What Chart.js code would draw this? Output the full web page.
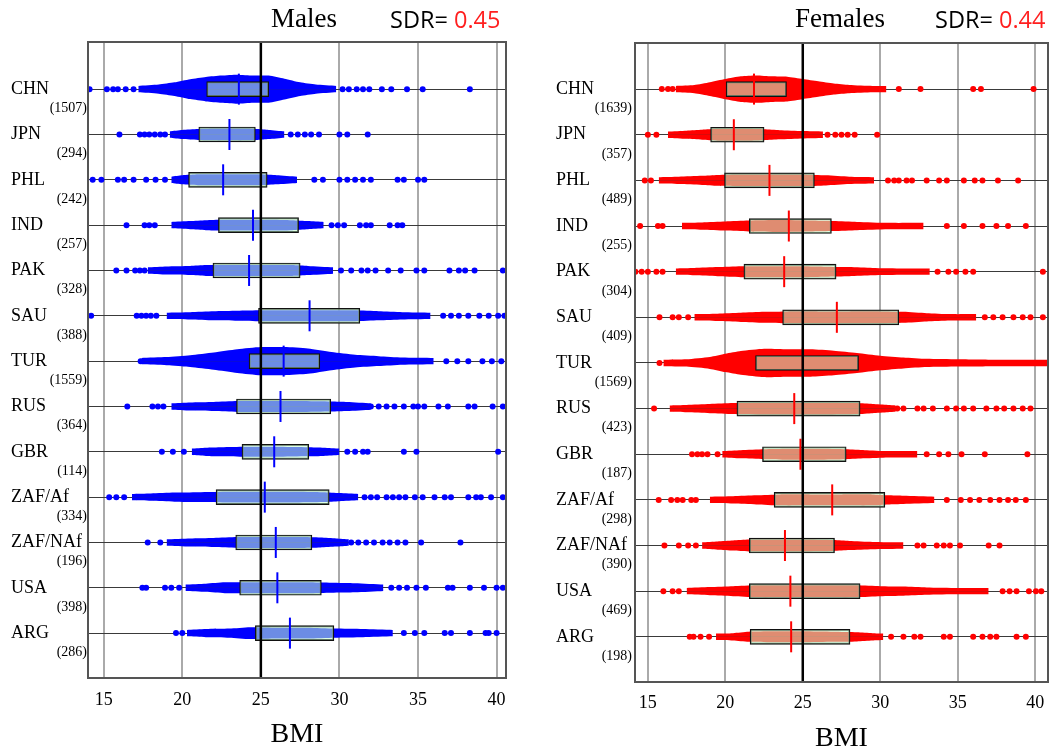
<!DOCTYPE html>
<html>
<head>
<meta charset="utf-8">
<script src="https://cdn.jsdelivr.net/npm/chart.js@4.4.1/dist/chart.umd.min.js"></script>
<style>
  body { margin: 0; background: #fff; width: 1057px; height: 750px; position: relative; overflow: hidden; }
  .panel { position: absolute; top: 0; height: 750px; }
  #malesBox { left: 0; width: 525px; }
  #femalesBox { left: 530px; width: 527px; }
  .title { position: absolute; top: 5px; font-family: 'Liberation Serif', 'Times New Roman', serif; font-size: 27px; line-height: 1; white-space: nowrap; }
  .sdr { position: absolute; top: 8px; font-family: 'Open Sans', sans-serif; font-size: 23.5px; line-height: 1; white-space: nowrap; }
  .sdr span { color: #ff1f1f; }
</style>
</head>
<body>
<div class="panel" id="malesBox"><canvas id="males"></canvas></div>
<div class="panel" id="femalesBox"><canvas id="females"></canvas></div>
<div class="title" style="left:271px">Males</div>
<div class="sdr" style="left:390px">SDR= <span>0.45</span></div>
<div class="title" style="left:795px">Females</div>
<div class="sdr" style="left:935px">SDR= <span>0.44</span></div>

<script>
const countries = ['CHN', 'JPN', 'PHL', 'IND', 'PAK', 'SAU', 'TUR', 'RUS', 'GBR', 'ZAF/Af', 'ZAF/NAf', 'USA', 'ARG'];
const maleN   = [1507, 294, 242, 257, 328, 388, 1559, 364, 114, 334, 196, 398, 286];
const femaleN = [1639, 357, 489, 255, 304, 409, 1569, 423, 187, 298, 390, 469, 198];

const xTicks = [15, 20, 25, 30, 35, 40];
const refBMI = 25;

/* boxes: lower / upper edge and the centre mark */
const maleQ1  = [21.55, 21.05, 20.4, 22.3, 21.95, 24.85, 24.25, 23.45, 23.8, 22.15, 23.4, 23.65, 24.65];
const maleQ3  = [25.5, 24.65, 25.4, 27.4, 27.5, 31.3, 28.75, 29.45, 28.05, 29.35, 28.25, 28.85, 29.65];
const maleMid = [23.6, 23.0, 22.6, 24.5, 24.25, 28.1, 26.45, 26.25, 25.85, 25.25, 25.95, 26.05, 26.85];

const femaleQ1  = [20.05, 19.05, 19.95, 21.55, 21.2, 23.7, 21.95, 20.75, 22.4, 23.15, 21.55, 21.55, 21.6];
const femaleQ3  = [23.95, 22.5, 25.75, 26.85, 27.15, 31.2, 28.6, 28.7, 27.8, 30.3, 27.05, 28.7, 28.05];
const femaleMid = [21.85, 20.55, 22.85, 24.1, 23.8, 27.2, 25.0, 24.45, 24.85, 26.9, 23.85, 24.2, 24.25];

/* dense part of each row: [BMI, half spread in rows] */
const maleCloud = [
  [[17.2,0.07],[18.5,0.1],[19.5,0.15],[20.5,0.22],[21.5,0.27],[22.5,0.3],[23.5,0.32],[24.5,0.3],[25.5,0.3],[26.5,0.23],[27.5,0.15],[28.5,0.1],[29.8,0.07]],
  [[19.2,0.07],[20,0.1],[21,0.12],[22,0.13],[23,0.13],[24,0.13],[24.8,0.12],[25.5,0.1],[26.5,0.07]],
  [[19.3,0.07],[20,0.1],[21,0.12],[22,0.12],[23,0.12],[24,0.12],[25,0.12],[26,0.1],[27.3,0.07]],
  [[19.3,0.07],[20.5,0.09],[21.5,0.11],[22.5,0.12],[24,0.12],[25.5,0.12],[27,0.11],[28,0.09],[29,0.07]],
  [[17.8,0.07],[19,0.09],[20.5,0.1],[21.5,0.12],[23,0.12],[25,0.12],[27,0.12],[28,0.1],[29.6,0.07]],
  [[19,0.07],[20.5,0.08],[22,0.1],[23.5,0.11],[25,0.12],[27,0.12],[29,0.12],[31,0.12],[32.5,0.1],[34,0.08],[35.8,0.07]],
  [[17.4,0.07],[19,0.09],[20.5,0.13],[22,0.19],[23.5,0.26],[25,0.31],[26.5,0.31],[28,0.28],[29.5,0.2],[31,0.14],[32.5,0.11],[34,0.08],[36,0.07]],
  [[19.3,0.07],[20.5,0.09],[22,0.1],[23.5,0.12],[25.5,0.12],[27.5,0.12],[29.5,0.11],[30.5,0.1],[32,0.07]],
  [[20.6,0.07],[21.5,0.09],[22.5,0.1],[24,0.11],[26,0.11],[28,0.1],[29,0.09],[30,0.07]],
  [[16.8,0.07],[18,0.08],[19.5,0.1],[21,0.11],[23,0.12],[25,0.12],[27,0.12],[29,0.11],[30,0.09],[31.2,0.07]],
  [[19,0.07],[20.5,0.09],[22,0.1],[23.5,0.12],[25.5,0.12],[27.5,0.12],[28.8,0.11],[29.8,0.09],[30.6,0.07]],
  [[20.2,0.07],[21.5,0.09],[22.7,0.12],[24,0.12],[26,0.12],[28,0.12],[29.5,0.11],[31,0.1],[32.8,0.07]],
  [[20.3,0.07],[21.5,0.09],[23,0.1],[24.3,0.13],[26,0.12],[28,0.12],[29.7,0.1],[31.5,0.09],[33.4,0.07]]
];

/* single points in the tails of each row */
const maleDots = [
  [14.1, 15.2, 15.6, 15.9, 16.4, 16.9, 30.2, 30.6, 31.1, 31.5, 31.9, 32.7, 33.3, 34.3, 35.3, 38.3],
  [16.0, 17.3, 17.6, 17.9, 18.25, 18.6, 18.9, 26.9, 27.35, 27.8, 28.2, 28.7, 30.0, 30.5, 31.8],
  [14.3, 14.85, 15.9, 16.3, 16.9, 17.7, 18.3, 18.9, 28.4, 28.95, 30.0, 30.5, 31.0, 31.5, 32.0, 33.7, 34.1, 35.0, 35.4],
  [16.45, 17.6, 17.9, 18.25, 29.5, 29.9, 30.3, 31.3, 31.7, 32.0, 33.2, 33.7, 34.0],
  [15.8, 16.45, 17.0, 17.3, 17.6, 30.1, 30.75, 31.4, 31.8, 32.3, 33.1, 33.9, 34.9, 35.4, 37.0, 37.6, 38.0, 38.6, 40.4],
  [14.2, 17.1, 17.4, 17.7, 18.0, 18.35, 36.6, 37.1, 37.6, 38.2, 38.9, 39.5, 40.1, 40.5],
  [17.35, 36.8, 37.5, 38.2, 39.1, 39.7, 40.3],
  [16.5, 18.1, 18.45, 18.8, 31.2, 32.0, 32.5, 33.0, 33.5, 34.1, 34.7, 35.0, 35.4, 36.3, 36.9, 38.2, 38.6, 39.75, 40.4],
  [18.7, 19.4, 20.1, 30.5, 31.0, 31.5, 31.8, 34.1, 34.9, 40.1],
  [15.35, 15.8, 16.3, 31.6, 32.0, 32.4, 33.0, 33.4, 33.8, 34.2, 34.8, 35.3, 36.05, 36.7, 37.1, 38.2, 38.7, 39.0, 39.65, 40.4],
  [17.8, 18.6, 30.75, 31.2, 31.7, 32.2, 32.75, 33.2, 33.7, 34.2, 35.2, 37.7],
  [17.46, 17.7, 18.9, 19.3, 19.8, 33.3, 33.8, 34.3, 34.9, 35.5, 36.9, 37.2, 38.3, 39.2, 40.0, 40.4],
  [19.6, 20.0, 34.1, 34.8, 35.4, 36.7, 37.1, 38.3, 39.3, 39.5, 40.0]
];

const femaleCloud = [
  [[16.8,0.07],[18,0.09],[19,0.15],[20,0.22],[21,0.28],[22,0.3],[23,0.28],[24,0.27],[25,0.22],[26,0.17],[27,0.12],[28,0.09],[29.5,0.07],[30.4,0.07]],
  [[16.3,0.07],[17.5,0.09],[18.5,0.11],[19.5,0.13],[20.5,0.13],[21.5,0.13],[22.5,0.12],[23.5,0.1],[25,0.08],[26.3,0.07]],
  [[15.7,0.07],[17,0.08],[18.5,0.1],[19.5,0.12],[21,0.13],[23,0.13],[25,0.13],[26.5,0.11],[28,0.08],[29.6,0.07]],
  [[17.2,0.07],[18.5,0.08],[20,0.1],[21.5,0.12],[23.5,0.13],[25.5,0.12],[27,0.11],[28.5,0.09],[30.5,0.07],[32.8,0.07]],
  [[16.8,0.07],[18,0.08],[19.5,0.1],[21,0.12],[23,0.12],[25,0.12],[26.5,0.11],[28,0.1],[29.5,0.08],[31.5,0.07],[33.2,0.07]],
  [[18,0.07],[19.5,0.08],[21,0.1],[22.5,0.12],[24,0.13],[26,0.13],[28,0.13],[30,0.13],[31.5,0.12],[33,0.09],[34.5,0.07],[36.2,0.07]],
  [[16,0.07],[17.5,0.08],[19,0.13],[20,0.2],[21,0.26],[22.5,0.31],[24,0.3],[25.5,0.3],[27,0.27],[28.5,0.22],[30,0.16],[31.5,0.12],[33,0.09],[35,0.08],[37.5,0.07],[40.9,0.07]],
  [[16.4,0.07],[17.5,0.08],[19,0.1],[20.5,0.12],[22.5,0.13],[24.5,0.13],[26.5,0.13],[28.5,0.12],[29.5,0.1],[30.5,0.08],[31,0.07]],
  [[19.8,0.07],[21,0.09],[22.5,0.11],[24,0.12],[26,0.12],[27.8,0.11],[29,0.09],[30.5,0.07],[32.4,0.07]],
  [[19,0.07],[20.5,0.08],[22,0.1],[23.5,0.12],[25.5,0.12],[27.5,0.12],[29.5,0.12],[30.5,0.1],[31.5,0.09],[33.5,0.07]],
  [[18.5,0.07],[19.5,0.09],[20.5,0.11],[21.5,0.13],[23,0.13],[25,0.13],[27,0.12],[28,0.1],[29.5,0.08],[31.5,0.07]],
  [[17.5,0.07],[19,0.09],[20.5,0.11],[22,0.13],[24,0.13],[26,0.13],[28.5,0.13],[30,0.11],[31.5,0.1],[33,0.08],[35,0.07],[37,0.07]],
  [[19.4,0.07],[20.5,0.08],[21.5,0.11],[23,0.12],[25,0.12],[27,0.11],[28.5,0.1],[29.5,0.08],[30.2,0.07]]
];

const femaleDots = [
  [15.9, 16.3, 16.6, 31.2, 32.6, 36.0, 36.5, 39.9],
  [15.0, 15.55, 26.6, 27.1, 27.5, 27.9, 28.35, 29.8],
  [14.8, 15.2, 30.5, 30.9, 31.2, 31.7, 32.05, 33.0, 33.8, 34.3, 35.4, 36.1, 36.6, 37.6, 38.9],
  [14.5, 15.65, 15.95, 34.3, 35.4, 36.6, 37.5, 38.25, 39.4],
  [14.2, 14.6, 15.0, 15.55, 15.95, 33.7, 34.4, 34.9, 35.5, 36.0, 40.5],
  [15.75, 16.6, 17.0, 17.6, 36.75, 37.3, 37.9, 38.6, 39.2, 39.7, 40.5],
  [15.75],
  [15.4, 31.1, 31.5, 32.4, 32.8, 33.4, 34.3, 34.9, 35.4, 36.0, 36.85, 37.5, 38.0, 38.6, 39.2, 39.7],
  [17.85, 18.2, 18.5, 18.85, 19.5, 33.0, 33.8, 34.4, 35.25, 36.75, 39.5],
  [15.7, 16.5, 16.9, 17.25, 17.8, 18.1, 34.3, 35.2, 35.8, 36.4, 37.1, 37.7, 38.25, 38.75, 39.4],
  [16.07, 17.0, 17.6, 18.1, 32.4, 32.8, 33.65, 34.1, 34.5, 35.15, 37.0, 37.7],
  [16.0, 16.6, 17.0, 37.9, 38.35, 38.8, 39.6, 40.05, 40.4],
  [17.7, 17.95, 18.4, 18.95, 30.7, 31.5, 32.2, 32.6, 34.1, 34.5, 36.0, 36.6, 37.1, 37.5, 38.8, 39.4]
];

const serif = "'Liberation Serif', 'Times New Roman', serif";

/* plot frame round the chart area */
const framePlugin = {
  id: 'frame',
  afterDatasetsDraw(chart) {
    const { ctx, chartArea: a } = chart;
    ctx.save();
    ctx.strokeStyle = '#555';
    ctx.lineWidth = 2;
    ctx.strokeRect(a.left, a.top, a.right - a.left, a.bottom - a.top);
    ctx.restore();
  }
};

function makePanel(id, p) {
  const datasets = [];

  // dense clouds, upper and lower half filled to the row line
  p.cloud.forEach((knots, i) => {
    [-1, 1].forEach(side => {
      datasets.push({
        type: 'line',
        data: knots.map(k => ({ x: k[0], y: i + side * k[1] })),
        borderWidth: 0,
        pointRadius: 0,
        tension: 0.2,
        backgroundColor: p.color,
        fill: { value: i },
        order: 5
      });
    });
  });

  // single points
  datasets.push({
    type: 'scatter',
    data: p.dots.flatMap((row, i) => row.map(b => ({ x: b, y: i }))),
    pointRadius: 3,
    pointBackgroundColor: p.color,
    pointBorderWidth: 0,
    order: 4
  });

  // boxes
  datasets.push({
    type: 'bar',
    indexAxis: 'y',
    data: p.q1.map((a, i) => ({ x: [a, p.q3[i]], y: i })),
    backgroundColor: 'rgba(196,255,206,0.55)',
    borderColor: '#111',
    borderWidth: 1.2,
    borderSkipped: false,
    barThickness: 15,
    order: 3
  });

  // centre marks
  datasets.push({
    type: 'scatter',
    data: p.mid.map((m, i) => ({ x: m, y: i })),
    pointStyle: 'line',
    pointRotation: 90,
    pointRadius: 15.5,
    pointBorderWidth: 2,
    pointBorderColor: p.color,
    order: 2
  });

  // reference line at BMI 25
  datasets.push({
    type: 'line',
    data: [{ x: refBMI, y: p.yMin }, { x: refBMI, y: p.yMax }],
    borderColor: '#000',
    borderWidth: 2.5,
    pointRadius: 0,
    order: 1
  });

  datasets.forEach(d => { d.xAxisID = 'x'; d.yAxisID = 'y'; });

  new Chart(document.getElementById(id), {
    type: 'line',
    data: { datasets },
    options: {
      responsive: true,
      maintainAspectRatio: false,
      animation: false,
      events: [],
      layout: { padding: p.pad, autoPadding: false },
      plugins: {
        legend: { display: false },
        tooltip: { enabled: false }
      },
      scales: {
        x: {
          type: 'linear',
          min: p.xMin,
          max: p.xMax,
          offset: false,
          grid: { color: '#aaa', lineWidth: 2, drawTicks: false },
          border: { display: false },
          afterBuildTicks: s => { s.ticks = xTicks.map(v => ({ value: v })); },
          ticks: {
            autoSkip: false,
            maxRotation: 0,
            padding: p.tickPad,
            color: '#000',
            font: { family: serif, size: 18 }
          },
          title: {
            display: true,
            text: 'BMI',
            color: '#000',
            font: { family: serif, size: 28, lineHeight: p.titleLH },
            padding: { top: 0, bottom: p.titlePad }
          },
          afterFit: s => { s.height = p.axisH; s.paddingLeft = 0; s.paddingRight = 0; }
        },
        // country names: inner axis, mirrored so the text can sit at the far left
        y: {
          type: 'linear',
          position: 'left',
          weight: 0,
          reverse: true,
          offset: false,
          min: p.yMin,
          max: p.yMax,
          grid: { offset: false, color: '#3a3a3a', lineWidth: 1, drawTicks: false },
          border: { display: false },
          afterBuildTicks: s => { s.ticks = countries.map((c, i) => ({ value: i })); },
          ticks: {
            autoSkip: false,
            mirror: true,
            crossAlign: 'near',
            padding: -p.labelW,
            color: '#000',
            font: { family: serif, size: 18 },
            callback: (v, i) => countries[i]
          },
          afterFit: s => { s.width = 0; s.paddingTop = 0; s.paddingBottom = 0; }
        },
        // sample sizes, right-aligned against the plot
        yc: {
          type: 'linear',
          position: 'left',
          weight: 1,
          reverse: true,
          offset: false,
          min: p.yMin,
          max: p.yMax,
          grid: { display: false, drawTicks: false },
          border: { display: false },
          afterBuildTicks: s => { s.ticks = p.n.map((n, i) => ({ value: i + 0.42 })); },
          ticks: {
            autoSkip: false,
            crossAlign: 'near',
            padding: p.nPad,
            color: '#000',
            font: { family: serif, size: 14 },
            callback: (v, i) => '(' + p.n[i] + ')'
          },
          afterFit: s => { s.width = p.labelW; s.paddingTop = 0; s.paddingBottom = 0; }
        }
      }
    },
    plugins: [framePlugin]
  });
}

makePanel('males', {
  color: '#0000ff',
  cloud: maleCloud, dots: maleDots,
  q1: maleQ1, q3: maleQ3, mid: maleMid, n: maleN,
  xMin: 14.0, xMax: 40.6, yMin: -1.04, yMax: 12.99,
  pad: { left: 11, top: 42, right: 19, bottom: 0 },
  labelW: 77, nPad: 1, axisH: 72, tickPad: 11, titleLH: 1, titlePad: 1
});

makePanel('females', {
  color: '#ff0000',
  cloud: femaleCloud, dots: femaleDots,
  q1: femaleQ1, q3: femaleQ3, mid: femaleMid, n: femaleN,
  xMin: 14.17, xMax: 40.83, yMin: -1.01, yMax: 12.99,
  pad: { left: 26, top: 43, right: 9, bottom: 0 },
  labelW: 79, nPad: 3, axisH: 68, tickPad: 10, titleLH: 0.8, titlePad: 0
});
</script>
</body>
</html>
